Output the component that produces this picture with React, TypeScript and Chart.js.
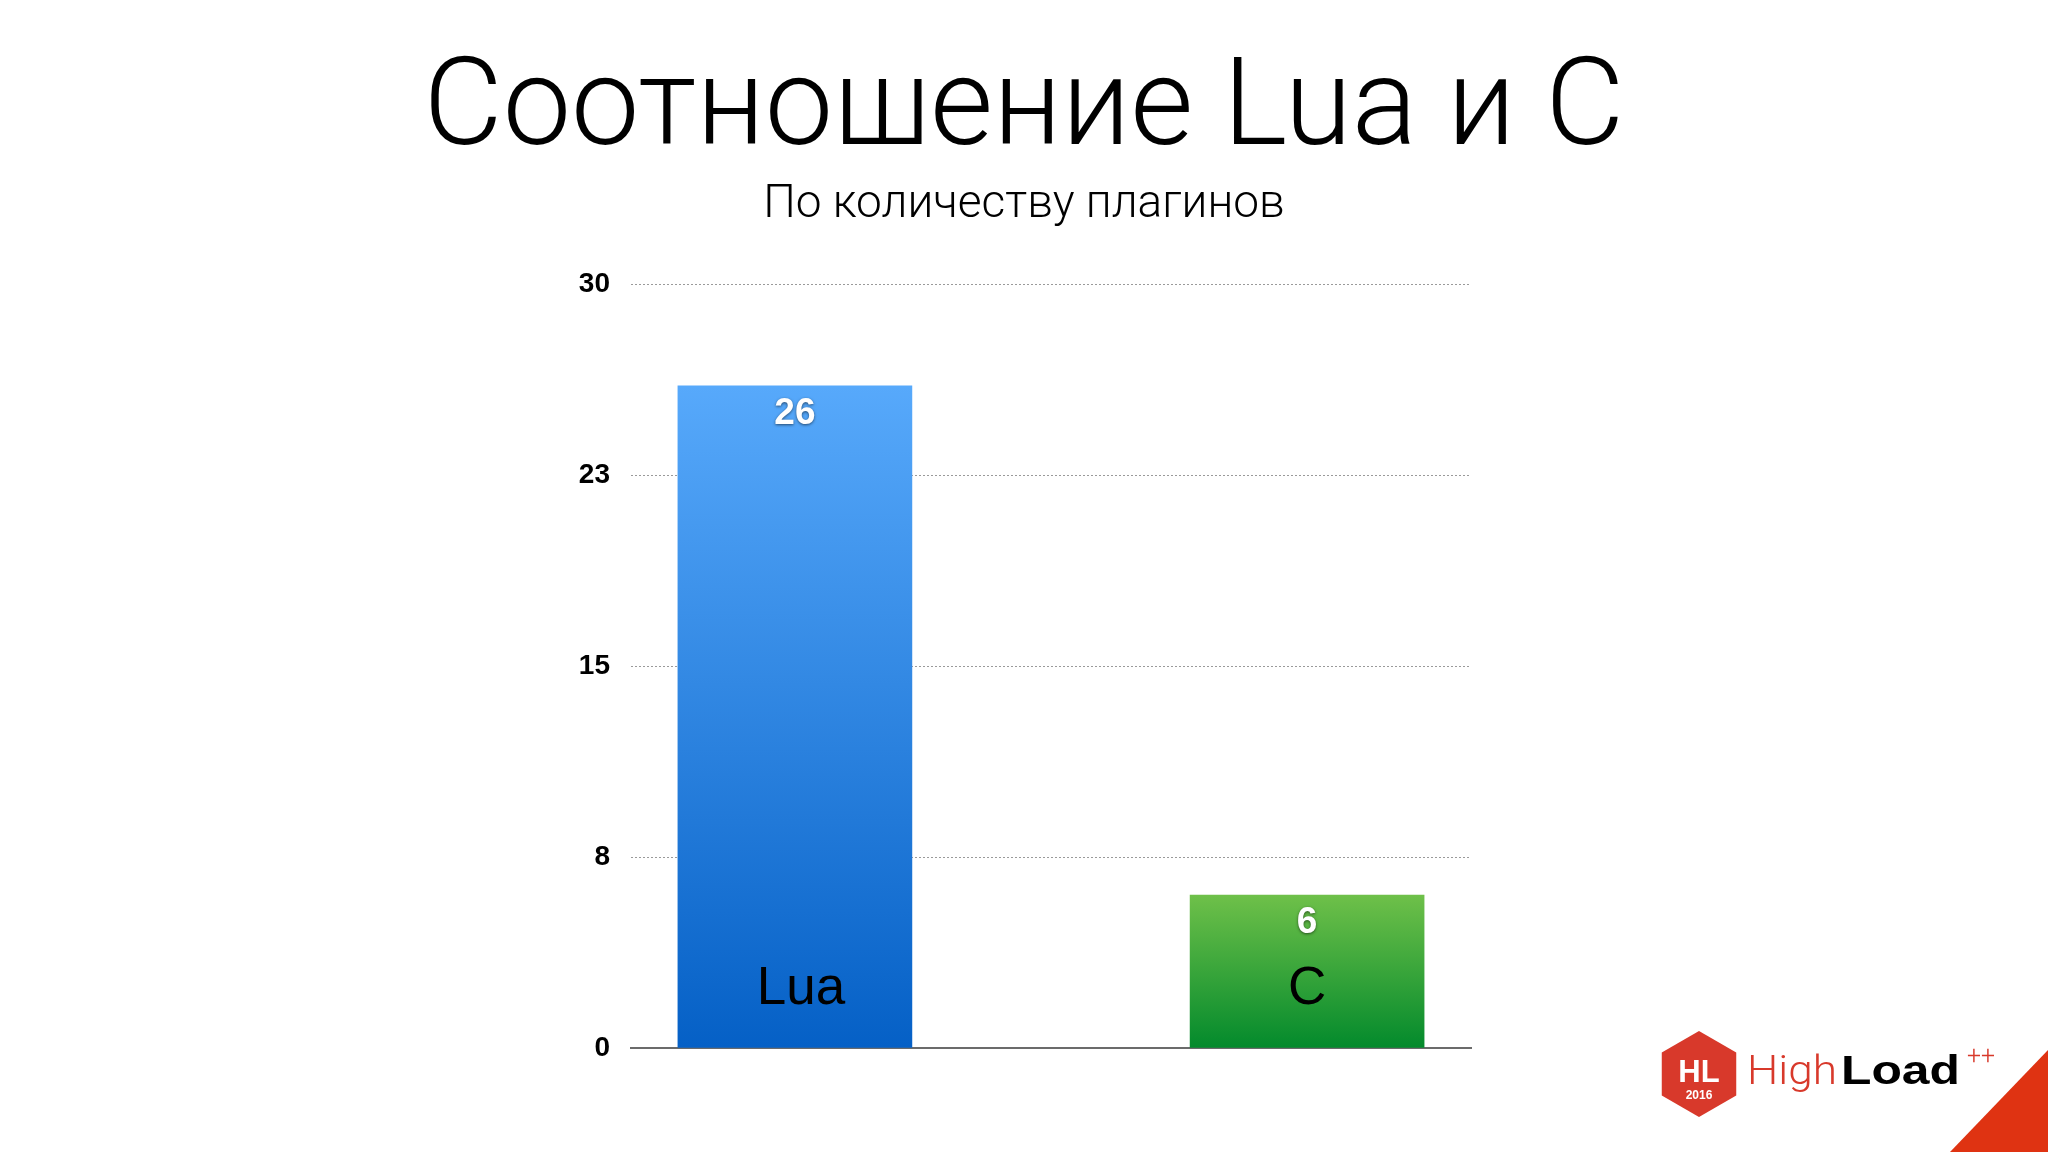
import React, { useEffect, useRef } from 'react';
import { Chart, registerables } from 'chart.js';

Chart.register(...registerables);

const titleText = 'Соотношение Lua и C';
const subtitleText = 'По количеству плагинов';
const categories = ['Lua', 'C'];
const values = [26, 6];
const barPositions = [1, 2];
const yTickValues = [0, 7.5, 15, 22.5, 30];
const yTickLabels = ['0', '8', '15', '23', '30'];
const gradientTop = ['#57a9fb', '#6ec049'];
const gradientBottom = ['#0560c6', '#038a2c'];

const W = 2048;
const H = 1152;

function fitText(ctx: CanvasRenderingContext2D, text: string, x: number, y: number, width: number) {
  const m = ctx.measureText(text).width;
  const s = m > 0 ? width / m : 1;
  ctx.save();
  ctx.translate(x, y);
  ctx.scale(s, 1);
  ctx.textAlign = 'left';
  ctx.fillText(text, 0, 0);
  ctx.restore();
}

const decorPlugin = {
  id: 'decor',
  afterDatasetsDraw(chart: any) {
    const ctx: CanvasRenderingContext2D = chart.ctx;
    const meta = chart.getDatasetMeta(0);
    meta.data.forEach((bar: any, i: number) => {
      const { x, y, base } = bar.getProps(['x', 'y', 'base'], true);
      ctx.save();
      ctx.font = 'bold 37px "Liberation Sans", Arial, sans-serif';
      ctx.textAlign = 'center';
      ctx.textBaseline = 'middle';
      ctx.shadowColor = 'rgba(0,0,0,0.55)';
      ctx.shadowBlur = 3;
      ctx.shadowOffsetY = 1;
      ctx.fillStyle = '#ffffff';
      ctx.fillText(String(values[i]), x, y + 28);
      ctx.restore();

      ctx.save();
      ctx.font = '53px "Liberation Sans", Arial, sans-serif';
      ctx.textAlign = 'center';
      ctx.textBaseline = 'middle';
      ctx.fillStyle = '#000000';
      ctx.fillText(categories[i], x + (i === 0 ? 6 : 0), base - 58);
      ctx.restore();
    });
  },
  afterDraw(chart: any) {
    const ctx: CanvasRenderingContext2D = chart.ctx;
    const cx = chart.width / 2;
    ctx.save();
    ctx.fillStyle = '#000000';
    ctx.textAlign = 'center';
    ctx.textBaseline = 'alphabetic';
    ctx.font = '300 122px Roboto, "Open Sans", sans-serif';
    ctx.fillText(titleText, cx, 144);
    ctx.font = '300 46px Roboto, "Open Sans", sans-serif';
    ctx.fillText(subtitleText, cx, 217);
    ctx.restore();

    // corner triangle
    ctx.save();
    ctx.fillStyle = '#df3312';
    ctx.beginPath();
    ctx.moveTo(W, 1050);
    ctx.lineTo(W, H);
    ctx.lineTo(1950, H);
    ctx.closePath();
    ctx.fill();

    // hexagon logo
    const hx = 1699, hy = 1074, r = 43;
    ctx.fillStyle = '#d8392b';
    ctx.beginPath();
    for (let k = 0; k < 6; k++) {
      const a = (-90 + 60 * k) * Math.PI / 180;
      const px = hx + r * Math.cos(a);
      const py = hy + r * Math.sin(a);
      if (k === 0) ctx.moveTo(px, py); else ctx.lineTo(px, py);
    }
    ctx.closePath();
    ctx.fill();
    ctx.fillStyle = '#ffffff';
    ctx.textAlign = 'center';
    ctx.textBaseline = 'alphabetic';
    ctx.font = 'bold 31px "Liberation Sans", Arial, sans-serif';
    ctx.fillText('HL', hx, 1082);
    ctx.font = 'bold 12px "Liberation Sans", Arial, sans-serif';
    ctx.fillText('2016', hx, 1099);

    ctx.fillStyle = '#d8392b';
    ctx.font = '300 40px Roboto, sans-serif';
    fitText(ctx, 'High', 1747, 1084, 90);
    ctx.fillStyle = '#000000';
    ctx.font = 'bold 40px "Liberation Sans", Arial, sans-serif';
    fitText(ctx, 'Load', 1841, 1084, 119);
    ctx.fillStyle = '#d8392b';
    ctx.font = '300 26px Roboto, sans-serif';
    fitText(ctx, '++', 1967, 1064, 28);
    ctx.restore();
  },
};

export default function App() {
  const ref = useRef<HTMLCanvasElement | null>(null);

  useEffect(() => {
    if (!ref.current) return;
    const chart = new Chart(ref.current, {
      type: 'bar',
      data: {
        datasets: [
          {
            label: 'Плагины',
            data: values.map((v, i) => ({ x: barPositions[i], y: v })),
            barThickness: 234,
            borderWidth: 0,
            backgroundColor: (c: any) => {
              const ch = c.chart;
              const ys = ch.scales && ch.scales.y;
              const i = c.dataIndex;
              if (!ch.chartArea || !ys || i == null) return gradientBottom[0];
              const top = ys.getPixelForValue(values[i]);
              const bottom = ys.getPixelForValue(0);
              const g = ch.ctx.createLinearGradient(0, top, 0, bottom);
              g.addColorStop(0, gradientTop[i]);
              g.addColorStop(1, gradientBottom[i]);
              return g;
            },
          } as any,
        ],
      },
      options: {
        animation: false,
        responsive: true,
        maintainAspectRatio: false,
        layout: { padding: { top: 284, left: 0, right: W - 1471, bottom: H - 1048 } },
        plugins: {
          legend: { display: false },
          tooltip: { enabled: false },
          title: { display: false },
        },
        scales: {
          x: {
            type: 'linear',
            offset: false,
            min: 0.68,
            max: 2.32,
            ticks: { display: false },
            grid: { display: false, drawTicks: false, offset: false },
            border: { display: true, color: '#6b6b6b', width: 2 },
          },
          y: {
            min: 0,
            max: 30,
            afterFit: (s: any) => {
              s.width = 631;
            },
            afterBuildTicks: (s: any) => {
              s.ticks = yTickValues.map((v) => ({ value: v }));
            },
            ticks: {
              padding: 21,
              color: '#000000',
              font: { family: '"Liberation Sans", Arial, sans-serif', size: 28, weight: 'bold' },
              callback: (_v: any, i: number) => yTickLabels[i],
            },
            grid: { color: '#9a9a9a', lineWidth: 1, drawTicks: false },
            border: { display: false, dash: [2, 2] },
          },
        },
      },
      plugins: [decorPlugin],
    });
    return () => chart.destroy();
  }, []);

  return (
    <div style={{ position: 'fixed', left: 0, top: 0, width: W, height: H, background: '#ffffff' }}>
      <canvas ref={ref} />
    </div>
  );
}
